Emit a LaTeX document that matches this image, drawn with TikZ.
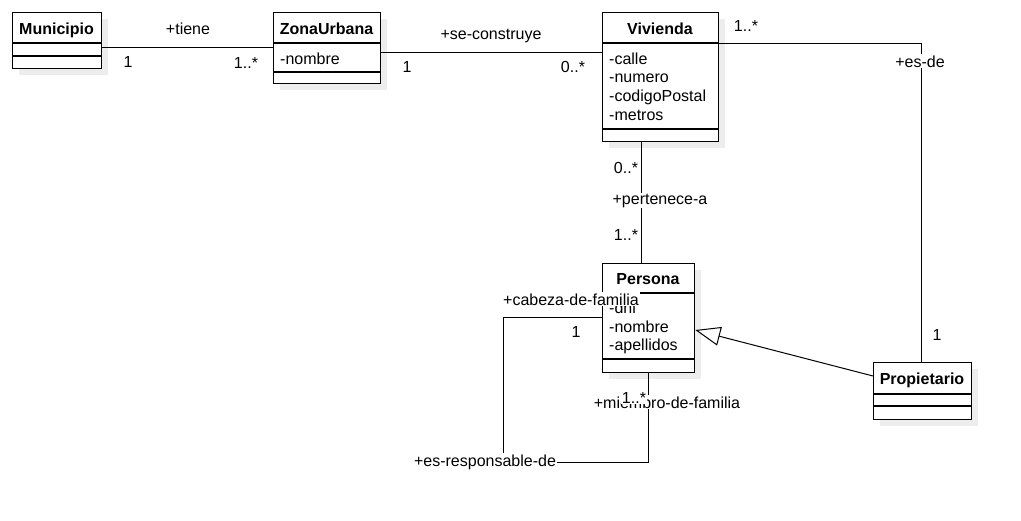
\documentclass[tikz,border=0pt]{standalone}
\usepackage{fontspec}
\setmainfont{Liberation Sans}
\usetikzlibrary{arrows.meta}
\begin{document}
\begin{tikzpicture}[x=1pt,y=-1pt,
  cbox/.style={draw, line width=1.3pt, fill=white, anchor=north west, inner sep=0pt},
  shadowbox/.style={fill=black!7, draw=none},
  divider/.style={line width=1.3pt},
  ctitle/.style={font=\fontsize{16}{19}\selectfont\bfseries, inner sep=0pt, anchor=base},
  cattr/.style={font=\fontsize{16}{19}\selectfont, anchor=base west, inner sep=0pt},
  lbl/.style={font=\fontsize{16}{19}\selectfont, inner sep=1pt, anchor=base},
  wlbl/.style={lbl, fill=white},
  conn/.style={line width=1pt},
  genarrow/.style={conn, -{Triangle[open, length=25pt, width=19pt, fill=white]}},
]
\useasboundingbox[fill=white] (0,0) rectangle (1021,520);

% shadows
\fill[shadowbox] (19,19) rectangle (108,75);
\fill[shadowbox] (280,19) rectangle (387,90);
\fill[shadowbox] (609,19) rectangle (725,148);
\fill[shadowbox] (609,270) rectangle (701,379);
\fill[shadowbox] (880,369) rectangle (978,426);

% connectors
\draw[conn] (101,47) coordinate (m1) -- (273,47) coordinate (z1);
\draw[conn] (380,52) coordinate (z2) -- (602,52) coordinate (v1);
\draw[conn] (718,43) coordinate (v2) -| (921,362) coordinate (p1);
\draw[conn] (641,141) coordinate (v3) -- (641,263) coordinate (pe1);
\draw[conn] (602,317) coordinate (pe2) -- (503,317) -- (503,462) -- (648,462) -- (648,372) coordinate (pe3);

% boxes
\node[cbox, minimum width=89pt, minimum height=56pt] (mun) at (12,12) {};
\draw[divider] (mun.west |- 0,43) -- (mun.east |- 0,43);
\draw[divider] (mun.west |- 0,56) -- (mun.east |- 0,56);
\node[ctitle] (munt) at (56.5,34) {Municipio};

\node[cbox, minimum width=107pt, minimum height=71pt] (zona) at (273,12) {};
\draw[divider] (zona.west |- 0,43) -- (zona.east |- 0,43);
\draw[divider] (zona.west |- 0,72) -- (zona.east |- 0,72);
\node[ctitle] (zonat) at (326.5,34) {ZonaUrbana};
\node[cattr] (zonaa) at (280,64) {-nombre};

\node[cbox, minimum width=116pt, minimum height=129pt] (viv) at (602,12) {};
\draw[divider] (viv.west |- 0,43) -- (viv.east |- 0,43);
\draw[divider] (viv.west |- 0,129) -- (viv.east |- 0,129);
\node[ctitle] (vivt) at (660,34) {Vivienda};
\node[cattr] (viva1) at (609,64) {-calle};
\node[cattr] (viva2) at (609,82.7) {-numero};
\node[cattr] (viva3) at (609,101.3) {-codigoPostal};
\node[cattr] (viva4) at (609,120) {-metros};

\node[cbox, minimum width=92pt, minimum height=109pt] (pers) at (602,263) {};
\draw[divider] (pers.west |- 0,293) -- (pers.east |- 0,293);
\draw[divider] (pers.west |- 0,359) -- (pers.east |- 0,359);
\node[ctitle] (perst) at (648,284) {Persona};
\node[cattr] (persa1) at (609,313.3) {-dni};
\node[cattr] (persa2) at (609,332) {-nombre};
\node[cattr] (persa3) at (609,350.7) {-apellidos};

\node[cbox, minimum width=98pt, minimum height=57pt] (prop) at (873,362) {};
\draw[divider] (prop.west |- 0,394) -- (prop.east |- 0,394);
\draw[divider] (prop.west |- 0,406) -- (prop.east |- 0,406);
\node[ctitle] (propt) at (922,384) {Propietario};

% generalization
\draw[genarrow] (prop.west |- 0,376) -- (pers.east |- 0,330);

% labels
\node[lbl] (l1) at (188,34) {+tiene};
\node[lbl] (l2) at (128,67) {1};
\node[lbl] (l3) at (246,68) {1..*};
\node[lbl] (l4) at (491,39) {+se-construye};
\node[lbl] (l5) at (407,72) {1};
\node[lbl] (l6) at (573,72) {0..*};
\node[lbl] (l7) at (746,31) {1..*};
\node[wlbl] (l8) at (920,67) {+es-de};
\node[lbl] (l9) at (937,340) {1};
\node[lbl] (l10) at (626,173) {0..*};
\node[wlbl] (l11) at (660,204) {+pertenece-a};
\node[lbl] (l12) at (626,240) {1..*};
\node[wlbl] (l13) at (571,305) {+cabeza-de-familia};
\node[lbl] (l14) at (576,337) {1};
\node[wlbl] (l15) at (485,466) {+es-responsable-de};
\node[wlbl] (l16) at (667,408) {+miembro-de-familia};
\node[wlbl, inner sep=0.5pt] (l17) at (634,403) {1..*};
\end{tikzpicture}
\end{document}
